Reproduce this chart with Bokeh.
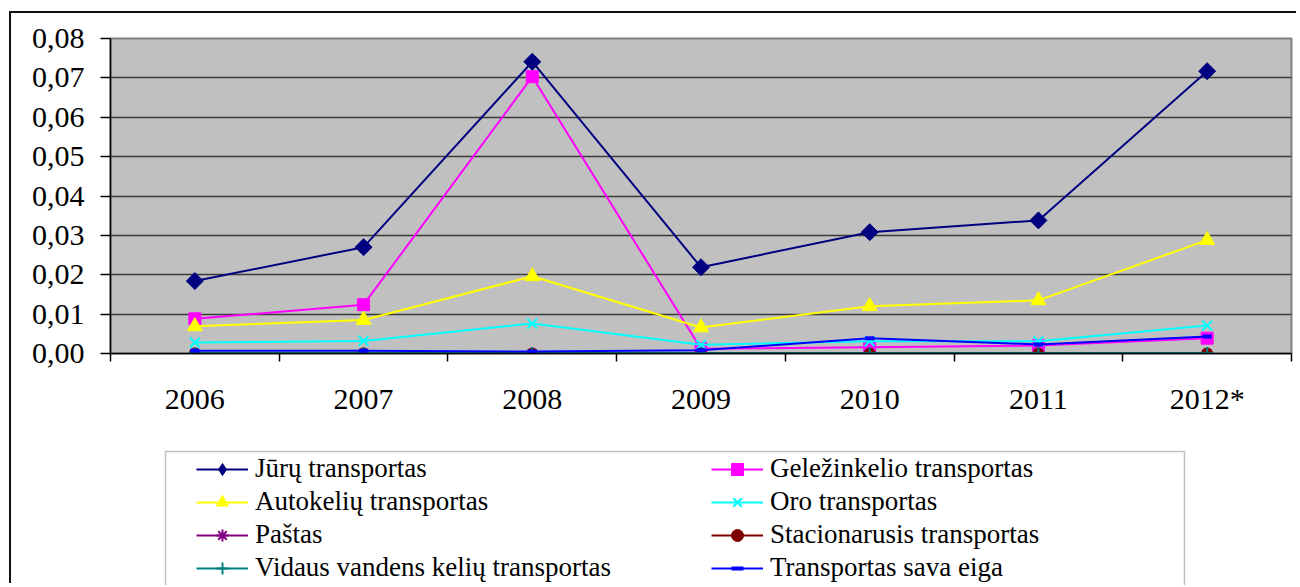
import math
import numpy as np
from bokeh.plotting import figure
from bokeh.layouts import column
from bokeh.models import (Range1d, FixedTicker, CustomJSTickFormatter, Legend,
                          LegendItem, BoxAnnotation)
from bokeh.embed import file_html
from bokeh.resources import INLINE

# ---- data -------------------------------------------------------------
years = ["2006", "2007", "2008", "2009", "2010", "2011", "2012*"]
y_ticks = [0.00, 0.01, 0.02, 0.03, 0.04, 0.05, 0.06, 0.07, 0.08]

juru = [0.0184, 0.0270, 0.0741, 0.0219, 0.0308, 0.0338, 0.0717]
gelezinkelio = [0.0088, 0.0124, 0.0703, 0.0012, 0.0016, 0.0020, 0.0039]
autokeliu = [0.0069, 0.0085, 0.0196, 0.0066, 0.0120, 0.0135, 0.0288]
oro = [0.0028, 0.0032, 0.0076, 0.0022, 0.0031, 0.0031, 0.0071]
pastas = [0.0000, 0.0000, 0.0000, 0.0000, 0.0000, 0.0000, 0.0000]
stacionarusis = [0.0000, 0.0000, 0.0000, 0.0000, 0.0000, 0.0000, 0.0000]
vidaus = [0.0001, 0.0001, 0.0001, 0.0001, 0.0001, 0.0001, 0.0001]
sava_eiga = [0.0007, 0.0007, 0.0005, 0.0008, 0.0039, 0.0023, 0.0043]

# name, values, colour, chart marker, size, marker line width, angle, legend marker
series = [
    ("Jūrų transportas", juru, "#000080", "square", 12, 1, math.pi / 4, "diamond"),
    ("Geležinkelio transportas", gelezinkelio, "#FF00FF", "square", 12, 1, 0, "square"),
    ("Autokelių transportas", autokeliu, "#FFFF00", "triangle", 15, 1, 0, "triangle"),
    ("Oro transportas", oro, "#00FFFF", "x", 14, 2, 0, "x"),
    ("Paštas", pastas, "#800080", "asterisk", 12, 2, 0, "asterisk"),
    ("Stacionarusis transportas", stacionarusis, "#800000", "circle", 11, 1, 0, "circle"),
    ("Vidaus vandens kelių transportas", vidaus, "#008080", "cross", 12, 2, 0, "cross"),
    ("Transportas sava eiga", sava_eiga, "#0000FF", "dash", 9, 4, 0, "dash"),
]

FONT = "Liberation Serif"
x = [i + 0.5 for i in range(len(years))]

# ---- chart ------------------------------------------------------------
p = figure(width=1287, height=427,
           x_range=Range1d(0, len(years)), y_range=Range1d(y_ticks[0], y_ticks[-1]),
           output_backend="svg", toolbar_location=None,
           min_border_left=99, min_border_right=7,
           min_border_top=25, min_border_bottom=87,
           background_fill_color="#C0C0C0", border_fill_color="white")

p.outline_line_color = "#808080"
p.outline_line_width = 2

p.xaxis.ticker = FixedTicker(ticks=x, minor_ticks=list(range(len(years) + 1)))
p.xaxis.formatter = CustomJSTickFormatter(args=dict(labels=years),
                                          code="return labels[Math.floor(tick)] || '';")
p.xaxis.major_tick_in = 0
p.xaxis.major_tick_out = 0
p.xaxis.minor_tick_in = 0
p.xaxis.minor_tick_out = 8
p.xaxis.minor_tick_line_color = "black"
p.xaxis.minor_tick_line_width = 1.5
p.xaxis.axis_line_color = "black"
p.xaxis.axis_line_width = 1.5
p.xaxis.major_label_standoff = 20
p.xaxis.major_label_text_font = FONT
p.xaxis.major_label_text_font_size = "30px"
p.xaxis.major_label_text_color = "black"

p.yaxis.ticker = FixedTicker(ticks=y_ticks)
p.yaxis.formatter = CustomJSTickFormatter(code="return tick.toFixed(2).replace('.', ',');")
p.yaxis.major_tick_in = 0
p.yaxis.major_tick_out = 10
p.yaxis.major_tick_line_color = "black"
p.yaxis.major_tick_line_width = 1.5
p.yaxis.minor_tick_line_color = None
p.yaxis.axis_line_color = "black"
p.yaxis.axis_line_width = 1.5
p.yaxis.major_label_standoff = 16
p.yaxis.major_label_text_font = FONT
p.yaxis.major_label_text_font_size = "30px"
p.yaxis.major_label_text_color = "black"

p.xgrid.grid_line_color = None
p.ygrid.grid_line_color = "#3a3a3a"
p.ygrid.grid_line_width = 1.3

for name, vals, color, marker, size, lw, ang, lmarker in series:
    p.line(x, vals, line_color=color, line_width=2)
    p.scatter(x, vals, marker=marker, size=size, angle=ang, fill_color=color,
              line_color=color, line_width=lw)

# ---- legend panel (second figure; its frame is aligned with the chart's) --
LH = 145
lg = figure(width=1287, height=LH, x_range=Range1d(110, 1291), y_range=Range1d(LH, 0),
            x_axis_type=None, y_axis_type=None,
            min_border_left=99, min_border_right=7, min_border_top=0, min_border_bottom=0,
            output_backend="svg", toolbar_location=None,
            outline_line_color=None, background_fill_color="white",
            border_fill_color="white")
lg.xgrid.visible = False
lg.ygrid.visible = False

nan = np.array([np.nan])
items = []
for name, vals, color, marker, size, lw, ang, lmarker in series:
    r_line = lg.line(nan, nan, line_color=color, line_width=2)
    r_mark = lg.scatter(nan, nan, marker=lmarker, size=size, fill_color=color,
                        line_color=color, line_width=lw)
    items.append(LegendItem(label=name, renderers=[r_line, r_mark]))

legend_kw = dict(glyph_width=52, glyph_height=30, label_height=30, spacing=2,
                 padding=0, margin=0, border_line_color=None,
                 background_fill_alpha=0, label_standoff=7,
                 label_text_font=FONT, label_text_font_size="27px",
                 label_text_color="black")
lg.add_layout(Legend(items=items[0::2], location=(86, 2), **legend_kw))
lg.add_layout(Legend(items=items[1::2], location=(601, 2), **legend_kw))

lg.add_layout(BoxAnnotation(left=165, right=1184, top=11, bottom=400,
                            fill_color=None, line_color="#333333", line_width=1.5))

layout = column(p, lg, spacing=0,
                styles={"margin-left": "11px", "margin-top": "13px",
                        "box-shadow": "-2px -2px 0 0 #111"})

open("out.html", "w").write(file_html(layout, INLINE))
